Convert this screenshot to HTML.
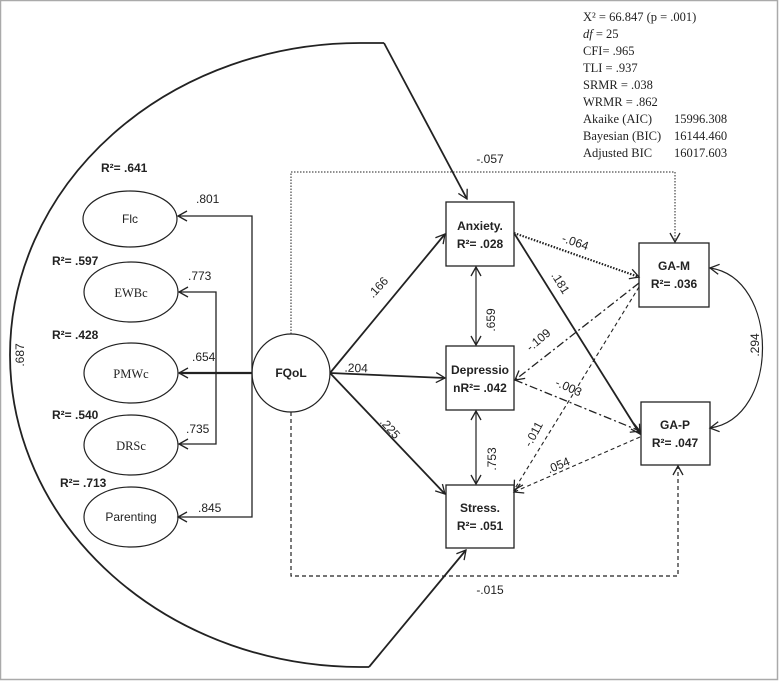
<!DOCTYPE html>
<html><head><meta charset="utf-8"><style>
html,body{margin:0;padding:0;background:#fff}
svg{display:block}
text{font-family:"Liberation Sans",sans-serif;font-size:12px;fill:#222}
.b{font-weight:bold}
.s{font-family:"Liberation Serif",serif;font-size:12.5px}
</style></head><body>
<svg width="779" height="681" viewBox="0 0 779 681" xmlns="http://www.w3.org/2000/svg">
<defs>
<marker id="a" markerWidth="12" markerHeight="12" refX="10" refY="6" orient="auto" markerUnits="userSpaceOnUse">
<path d="M1,1 L10,6 L1,11" fill="none" stroke="#222" stroke-width="1.3"/></marker>
<marker id="as" markerWidth="12" markerHeight="12" refX="10" refY="6" orient="auto-start-reverse" markerUnits="userSpaceOnUse">
<path d="M1,1 L10,6 L1,11" fill="none" stroke="#222" stroke-width="1.3"/></marker>
</defs>
<rect x="0.5" y="0.5" width="777" height="679" fill="#fff" stroke="#aaa" stroke-width="1.5"/>
<g fill="none" stroke="#222">
<path d="M384,43 L360,43 A350,312 0 0 0 360,667 L369,667" stroke-width="1.8"/>
<line x1="384" y1="43" x2="467" y2="199" stroke-width="1.8" marker-end="url(#a)"/>
<line x1="369" y1="667" x2="466" y2="550" stroke-width="1.8" marker-end="url(#a)"/>
<ellipse cx="130" cy="219" rx="47" ry="28" stroke-width="1.2"/>
<ellipse cx="131" cy="292" rx="47" ry="30" stroke-width="1.2"/>
<ellipse cx="131" cy="373" rx="47" ry="30" stroke-width="1.2"/>
<ellipse cx="131" cy="445" rx="47" ry="30" stroke-width="1.2"/>
<ellipse cx="131" cy="517" rx="47" ry="30" stroke-width="1.2"/>
<polyline points="252,373 252,216 178,216" stroke-width="1.3" marker-end="url(#a)"/>
<polyline points="252,373 252,517 178,517" stroke-width="1.3" marker-end="url(#a)"/>
<polyline points="216,373 216,292 179,292" stroke-width="1.3" marker-end="url(#a)"/>
<polyline points="216,373 216,444 179,444" stroke-width="1.3" marker-end="url(#a)"/>
<line x1="252" y1="373" x2="179" y2="373" stroke-width="2.2" marker-end="url(#a)"/>
<circle cx="291" cy="373" r="39" stroke-width="1.2"/>
<rect x="446" y="202" width="68" height="64" stroke-width="1.3"/>
<rect x="446" y="346" width="68" height="64" stroke-width="1.3"/>
<rect x="446" y="485" width="68" height="63" stroke-width="1.3"/>
<rect x="639" y="243" width="70" height="64" stroke-width="1.3"/>
<rect x="641" y="402" width="69" height="63" stroke-width="1.3"/>
<line x1="330" y1="373" x2="445" y2="234" stroke-width="1.8" marker-end="url(#a)"/>
<line x1="330" y1="373" x2="445" y2="378" stroke-width="1.8" marker-end="url(#a)"/>
<line x1="330" y1="373" x2="445" y2="494" stroke-width="1.8" marker-end="url(#a)"/>
<polyline points="291,334 291,172 675,172 675,242" stroke-width="1" stroke-dasharray="1.5,1.5" marker-end="url(#a)"/>
<polyline points="291,412 291,576 678,576 678,466" stroke-width="1.2" stroke-dasharray="4,3" marker-end="url(#a)"/>
<line x1="476" y1="267" x2="476" y2="345" stroke-width="1.2" marker-start="url(#as)" marker-end="url(#a)"/>
<line x1="476" y1="411" x2="476" y2="484" stroke-width="1.2" marker-start="url(#as)" marker-end="url(#a)"/>
<path d="M710,268 C780,278 780,418 710,428" stroke-width="1.2" marker-start="url(#as)" marker-end="url(#a)"/>
<line x1="514" y1="233" x2="639" y2="277" stroke-width="2.2" stroke-dasharray="1.5,1.5" marker-end="url(#a)"/>
<line x1="514" y1="233" x2="640" y2="434" stroke-width="1.8" marker-end="url(#a)"/>
<line x1="639" y1="283" x2="515" y2="380" stroke-width="1.3" stroke-dasharray="8,3,2,3" marker-end="url(#a)"/>
<line x1="515" y1="380" x2="640" y2="431" stroke-width="1.3" stroke-dasharray="8,3,2,3" marker-end="url(#a)"/>
<line x1="639" y1="287" x2="514" y2="490" stroke-width="1.1" stroke-dasharray="4,3" marker-end="url(#a)"/>
<line x1="640" y1="437" x2="514" y2="492" stroke-width="1.1" stroke-dasharray="4,3" marker-end="url(#a)"/>
</g>
<text x="130" y="223" text-anchor="middle">Flc</text>
<text x="131" y="297" text-anchor="middle" class="s">EWBc</text>
<text x="131" y="378" text-anchor="middle" class="s">PMWc</text>
<text x="131" y="450" text-anchor="middle" class="s">DRSc</text>
<text x="131" y="521" text-anchor="middle">Parenting</text>
<text x="291" y="377" text-anchor="middle" class="b" font-size="11">FQoL</text>
<g class="b" text-anchor="middle">
<text x="480" y="230" class="b">Anxiety.</text><text x="480" y="248" class="b">R²= .028</text>
<text x="480" y="374" class="b">Depressio</text><text x="480" y="392" class="b">nR²= .042</text>
<text x="480" y="512" class="b">Stress.</text><text x="480" y="530" class="b">R²= .051</text>
<text x="674" y="270" class="b">GA-M</text><text x="674" y="288" class="b">R²= .036</text>
<text x="675" y="429" class="b">GA-P</text><text x="675" y="447" class="b">R²= .047</text>
</g>
<text x="101" y="172" class="b">R²= .641</text>
<text x="52" y="265" class="b">R²= .597</text>
<text x="52" y="339" class="b">R²= .428</text>
<text x="52" y="419" class="b">R²= .540</text>
<text x="60" y="487" class="b">R²= .713</text>
<text x="196" y="203">.801</text>
<text x="188" y="280">.773</text>
<text x="192" y="361">.654</text>
<text x="186" y="433">.735</text>
<text x="198" y="512">.845</text>
<text transform="translate(24,355) rotate(-90)" text-anchor="middle">.687</text>
<text x="490" y="163" text-anchor="middle">-.057</text>
<text x="490" y="594" text-anchor="middle">-.015</text>
<text transform="translate(381,290) rotate(-47)" text-anchor="middle">.166</text>
<text x="356" y="372" text-anchor="middle" transform="rotate(2 356 372)">.204</text>
<text transform="translate(387,431) rotate(48)" text-anchor="middle">.225</text>
<text transform="translate(495,320) rotate(-90)" text-anchor="middle">.659</text>
<text transform="translate(496,459) rotate(-90)" text-anchor="middle">.753</text>
<text transform="translate(574,246) rotate(19)" text-anchor="middle">-.064</text>
<text transform="translate(557,285) rotate(58)" text-anchor="middle">.181</text>
<text transform="translate(541,343) rotate(-40)" text-anchor="middle">-.109</text>
<text transform="translate(567,391) rotate(24)" text-anchor="middle">-.003</text>
<text transform="translate(537,436) rotate(-62)" text-anchor="middle">-.011</text>
<text transform="translate(560,469) rotate(-23)" text-anchor="middle">.054</text>
<text transform="translate(759,345) rotate(-90)" text-anchor="middle">.294</text>
<g class="s">
<text x="583" y="21" class="s">X² = 66.847 (p = .001)</text>
<text x="583" y="38" class="s"><tspan font-style="italic">df</tspan> = 25</text>
<text x="583" y="55" class="s">CFI= .965</text>
<text x="583" y="72" class="s">TLI = .937</text>
<text x="583" y="89" class="s">SRMR = .038</text>
<text x="583" y="106" class="s">WRMR = .862</text>
<text x="583" y="123" class="s">Akaike (AIC)</text><text x="674" y="123" class="s">15996.308</text>
<text x="583" y="140" class="s">Bayesian (BIC)</text><text x="674" y="140" class="s">16144.460</text>
<text x="583" y="157" class="s">Adjusted BIC</text><text x="674" y="157" class="s">16017.603</text>
</g>
</svg>
</body></html>
